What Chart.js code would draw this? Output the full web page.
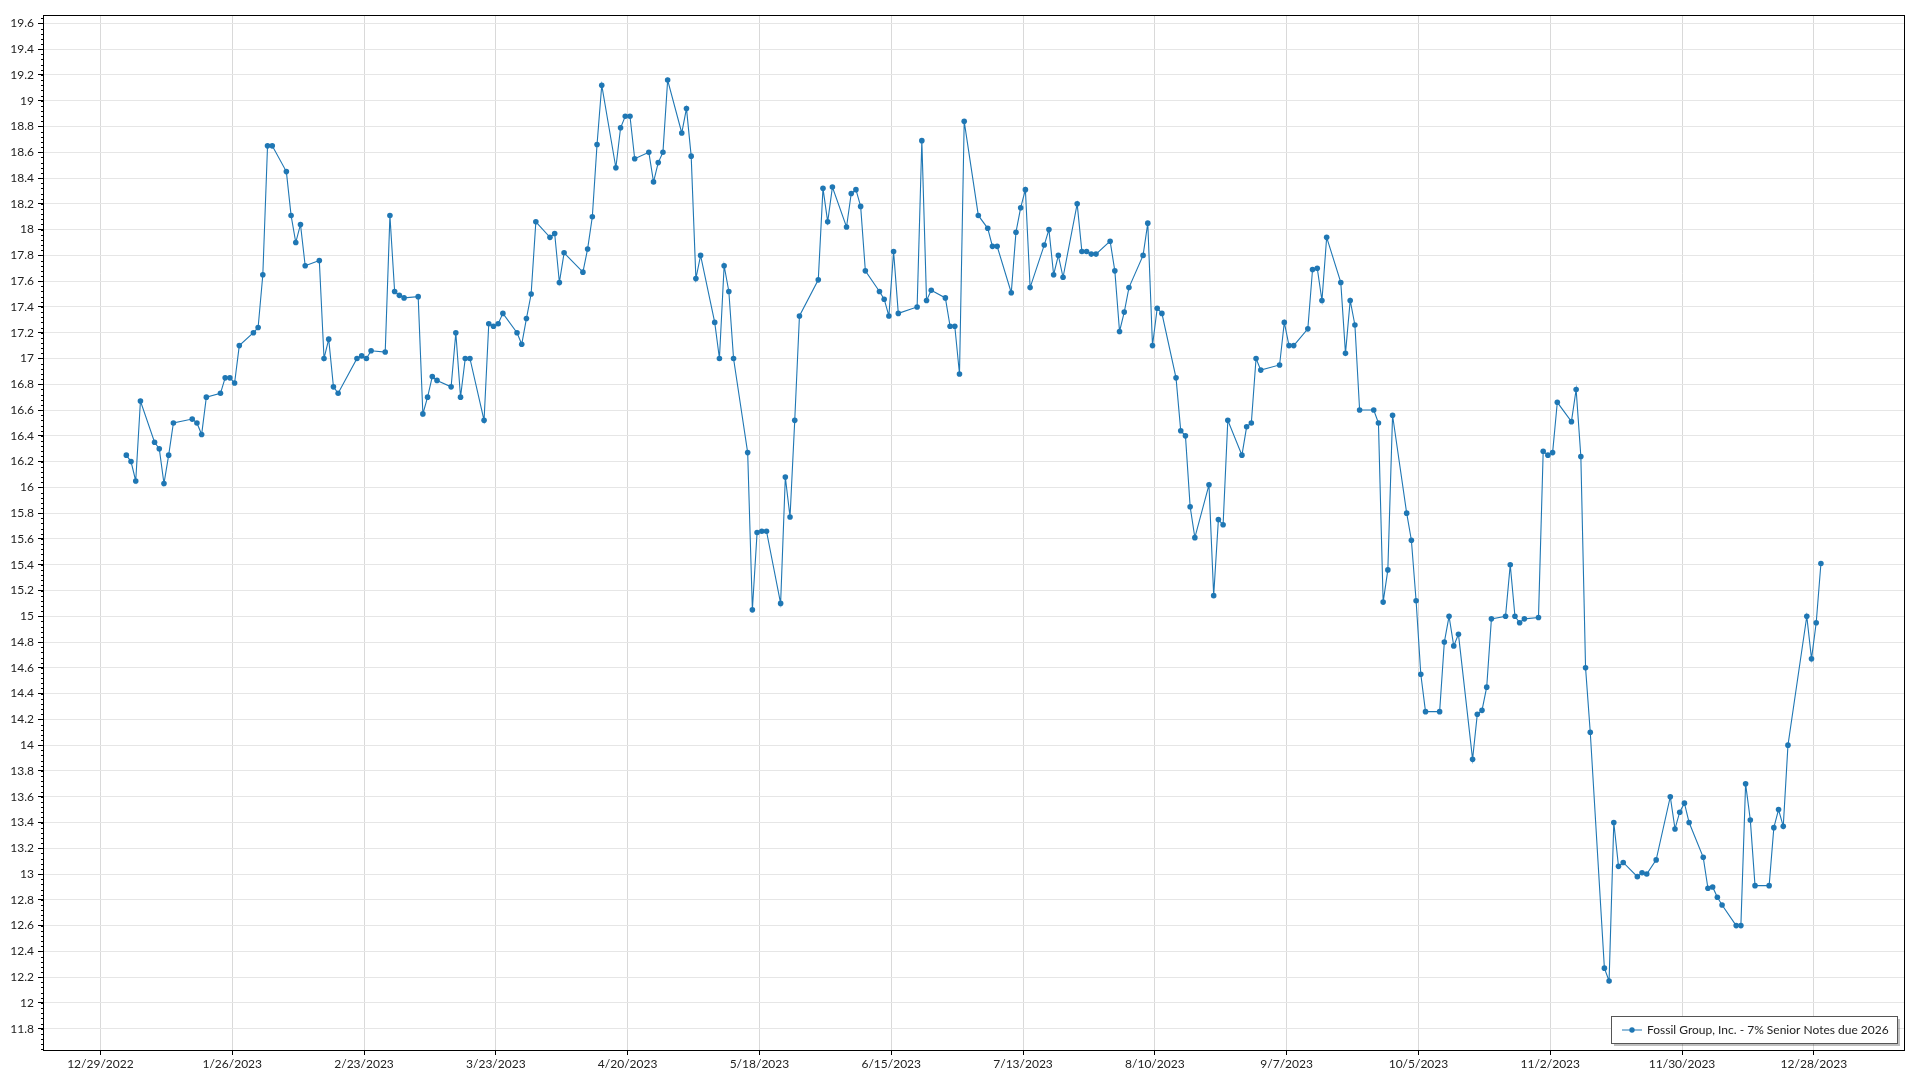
<!DOCTYPE html>
<html>
<head>
<meta charset="utf-8">
<title>Fossil Group, Inc. - 7% Senior Notes due 2026</title>
<script src="https://cdn.jsdelivr.net/npm/chart.js@4.4.1/dist/chart.umd.min.js"></script>
<style>
  html, body { margin: 0; padding: 0; background: #fff; }
  canvas { display: block; }
</style>
</head>
<body>
<canvas id="priceChart" width="1920" height="1080"></canvas>
<script>
const seriesName = "Fossil Group, Inc. - 7% Senior Notes due 2026";
const year = 2023;

// trading dates (M/D, 2023) and closing prices, one row per month
const dates = [
  "1/3","1/4","1/5","1/6","1/9","1/10","1/11","1/12","1/13","1/17","1/18","1/19","1/20","1/23","1/24","1/25","1/26","1/27","1/30","1/31",
  "2/1","2/2","2/3","2/6","2/7","2/8","2/9","2/10","2/13","2/14","2/15","2/16","2/17","2/21","2/22","2/23","2/24","2/27","2/28",
  "3/1","3/2","3/3","3/6","3/7","3/8","3/9","3/10","3/13","3/14","3/15","3/16","3/17","3/20","3/21","3/22","3/23","3/24","3/27","3/28","3/29","3/30","3/31",
  "4/3","4/4","4/5","4/6","4/10","4/11","4/12","4/13","4/14","4/17","4/18","4/19","4/20","4/21","4/24","4/25","4/26","4/27","4/28",
  "5/1","5/2","5/3","5/4","5/5","5/8","5/9","5/10","5/11","5/12","5/15","5/16","5/17","5/18","5/19","5/22","5/23","5/24","5/25","5/26","5/30","5/31",
  "6/1","6/2","6/5","6/6","6/7","6/8","6/9","6/12","6/13","6/14","6/15","6/16","6/20","6/21","6/22","6/23","6/26","6/27","6/28","6/29","6/30",
  "7/3","7/5","7/6","7/7","7/10","7/11","7/12","7/13","7/14","7/17","7/18","7/19","7/20","7/21","7/24","7/25","7/26","7/27","7/28","7/31",
  "8/1","8/2","8/3","8/4","8/7","8/8","8/9","8/10","8/11","8/14","8/15","8/16","8/17","8/18","8/21","8/22","8/23","8/24","8/25","8/28","8/29","8/30","8/31",
  "9/1","9/5","9/6","9/7","9/8","9/11","9/12","9/13","9/14","9/15","9/18","9/19","9/20","9/21","9/22","9/25","9/26","9/27","9/28","9/29",
  "10/2","10/3","10/4","10/5","10/6","10/9","10/10","10/11","10/12","10/13","10/16","10/17","10/18","10/19","10/20","10/23","10/24","10/25","10/26","10/27","10/30","10/31",
  "11/1","11/2","11/3","11/6","11/7","11/8","11/9","11/10","11/13","11/14","11/15","11/16","11/17","11/20","11/21","11/22","11/24","11/27","11/28","11/29","11/30",
  "12/1","12/4","12/5","12/6","12/7","12/8","12/11","12/12","12/13","12/14","12/15","12/18","12/19","12/20","12/21","12/22","12/26","12/27","12/28","12/29",
];

const prices = [
  16.25,16.20,16.05,16.67,16.35,16.30,16.03,16.25,16.50,16.53,16.50,16.41,16.70,16.73,16.85,16.85,16.81,17.10,17.20,17.24,
  17.65,18.65,18.65,18.45,18.11,17.90,18.04,17.72,17.76,17.00,17.15,16.78,16.73,17.00,17.02,17.00,17.06,17.05,18.11,
  17.52,17.49,17.47,17.48,16.57,16.70,16.86,16.83,16.78,17.20,16.70,17.00,17.00,16.52,17.27,17.25,17.27,17.35,17.20,17.11,17.31,17.50,18.06,
  17.94,17.97,17.59,17.82,17.67,17.85,18.10,18.66,19.12,18.48,18.79,18.88,18.88,18.55,18.60,18.37,18.52,18.60,19.16,
  18.75,18.94,18.57,17.62,17.80,17.28,17.00,17.72,17.52,17.00,16.27,15.05,15.65,15.66,15.66,15.10,16.08,15.77,16.52,17.33,17.61,18.32,
  18.06,18.33,18.02,18.28,18.31,18.18,17.68,17.52,17.46,17.33,17.83,17.35,17.40,18.69,17.45,17.53,17.47,17.25,17.25,16.88,18.84,
  18.11,18.01,17.87,17.87,17.51,17.98,18.17,18.31,17.55,17.88,18.00,17.65,17.80,17.63,18.20,17.83,17.83,17.81,17.81,17.91,
  17.68,17.21,17.36,17.55,17.80,18.05,17.10,17.39,17.35,16.85,16.44,16.40,15.85,15.61,16.02,15.16,15.75,15.71,16.52,16.25,16.47,16.50,17.00,
  16.91,16.95,17.28,17.10,17.10,17.23,17.69,17.70,17.45,17.94,17.59,17.04,17.45,17.26,16.60,16.60,16.50,15.11,15.36,16.56,
  15.80,15.59,15.12,14.55,14.26,14.26,14.80,15.00,14.77,14.86,13.89,14.24,14.27,14.45,14.98,15.00,15.40,15.00,14.95,14.98,14.99,16.28,
  16.25,16.27,16.66,16.51,16.76,16.24,14.60,14.10,12.27,12.17,13.40,13.06,13.09,12.98,13.01,13.00,13.11,13.60,13.35,13.48,13.55,
  13.40,13.13,12.89,12.90,12.82,12.76,12.60,12.60,13.70,13.42,12.91,12.91,13.36,13.50,13.37,14.00,15.00,14.67,14.95,15.41,
];

// x axis tick labels, every 28 days from 12/29/2022
const xTickLabels = [
  "12/29/2022","1/26/2023","2/23/2023","3/23/2023","4/20/2023","5/18/2023","6/15/2023",
  "7/13/2023","8/10/2023","9/7/2023","10/5/2023","11/2/2023","11/30/2023","12/28/2023",
];
const xTickStep = 28;

// y axis ticks
const yTickMin = 11.8;
const yTickMax = 19.6;
const yTickStep = 0.2;

// days since 12/29/2022, prices are stamped at midday
function dayNumber(md) {
  const [m, d] = md.split("/").map(Number);
  return (Date.UTC(year, m - 1, d) - Date.UTC(2022, 11, 29)) / 86400000 + 0.5;
}

const points = dates.map((md, i) => ({ x: dayNumber(md), y: prices[i] }));

const xTickValues = xTickLabels.map((_, i) => i * xTickStep);
const yTickValues = [];
for (let v = yTickMin; v <= yTickMax + 1e-9; v += yTickStep) {
  yTickValues.push(Math.round(v * 10) / 10);
}

const lineColor = "#1f77b4";

// frame, minor ticks and the legend box in the corner
const framePlugin = {
  id: "frame",
  afterDraw(chart) {
    const ctx = chart.ctx;
    const area = chart.chartArea;
    const yScale = chart.scales.y;

    ctx.save();
    // minor ticks on the value axis
    ctx.strokeStyle = "#000";
    ctx.lineWidth = 1;
    ctx.beginPath();
    for (let v = 11.64; v <= yScale.max; v += 0.04) {
      const py = Math.round(yScale.getPixelForValue(v)) + 0.5;
      ctx.moveTo(area.left - 2, py);
      ctx.lineTo(area.left, py);
    }
    ctx.stroke();

    // plot border
    ctx.strokeRect(Math.round(area.left) + 0.5, Math.round(area.top) + 0.5,
      Math.round(area.right - area.left), Math.round(area.bottom - area.top));

    // legend
    const lx = 1611, ly = 1016, lw = 286, lh = 27;
    ctx.fillStyle = "rgba(0,0,0,0.25)";
    ctx.fillRect(lx + 3, ly + 3, lw, lh);
    ctx.fillStyle = "#fff";
    ctx.fillRect(lx, ly, lw, lh);
    ctx.strokeStyle = "#555";
    ctx.strokeRect(lx + 0.5, ly + 0.5, lw, lh);

    const my = ly + lh / 2;
    ctx.strokeStyle = lineColor;
    ctx.beginPath();
    ctx.moveTo(lx + 11, my + 0.5);
    ctx.lineTo(lx + 31, my + 0.5);
    ctx.stroke();
    ctx.fillStyle = lineColor;
    ctx.beginPath();
    ctx.arc(lx + 21, my + 0.5, 2.7, 0, Math.PI * 2);
    ctx.fill();

    ctx.fillStyle = "#222";
    ctx.font = "12px Lato, 'Noto Sans', sans-serif";
    ctx.textBaseline = "middle";
    ctx.fillText(seriesName, lx + 36, my + 1);
    ctx.restore();
  },
};

window.onload = function () {
  const ctx = document.getElementById("priceChart").getContext("2d");

  new Chart(ctx, {
    type: "line",
    data: {
      datasets: [
        {
          label: seriesName,
          data: points,
          borderColor: lineColor,
          backgroundColor: lineColor,
          borderWidth: 1.1,
          pointRadius: 2.8,
          pointHoverRadius: 2.8,
          pointBorderWidth: 0,
          tension: 0,
        },
      ],
    },
    options: {
      responsive: false,
      animation: false,
      devicePixelRatio: 1,
      layout: { padding: { top: 15, right: 16, left: 0, bottom: 0 } },
      font: { family: "Lato, 'Noto Sans', sans-serif", size: 12 },
      scales: {
        x: {
          type: "linear",
          min: -12.2,
          max: 383.15,
          afterFit: (scale) => { scale.height = 30; },
          afterBuildTicks: (scale) => {
            scale.ticks = xTickValues.map((v) => ({ value: v }));
          },
          grid: {
            color: "#d9d9d9",
            tickColor: "#000",
            tickLength: 5,
          },
          border: { display: true, color: "#000" },
          ticks: {
            color: "#222",
            padding: 2,
            maxRotation: 0,
            autoSkip: false,
            font: { family: "Lato, 'Noto Sans', sans-serif", size: 12 },
            callback: function (value) {
              return xTickLabels[Math.round(value / xTickStep)] || "";
            },
          },
        },
        y: {
          type: "linear",
          min: 11.635,
          max: 19.665,
          afterFit: (scale) => { scale.width = 43; },
          afterBuildTicks: (scale) => {
            scale.ticks = yTickValues.map((v) => ({ value: v }));
          },
          grid: {
            color: "#e6e6e6",
            tickColor: "#000",
            tickLength: 5,
          },
          border: { display: true, color: "#000" },
          ticks: {
            color: "#222",
            padding: 4,
            autoSkip: false,
            font: { family: "Lato, 'Noto Sans', sans-serif", size: 12 },
            callback: function (value) {
              return String(parseFloat(value.toFixed(1)));
            },
          },
        },
      },
      plugins: {
        legend: { display: false },
        tooltip: { enabled: false },
      },
    },
    plugins: [framePlugin],
  });
};
</script>
</body>
</html>
